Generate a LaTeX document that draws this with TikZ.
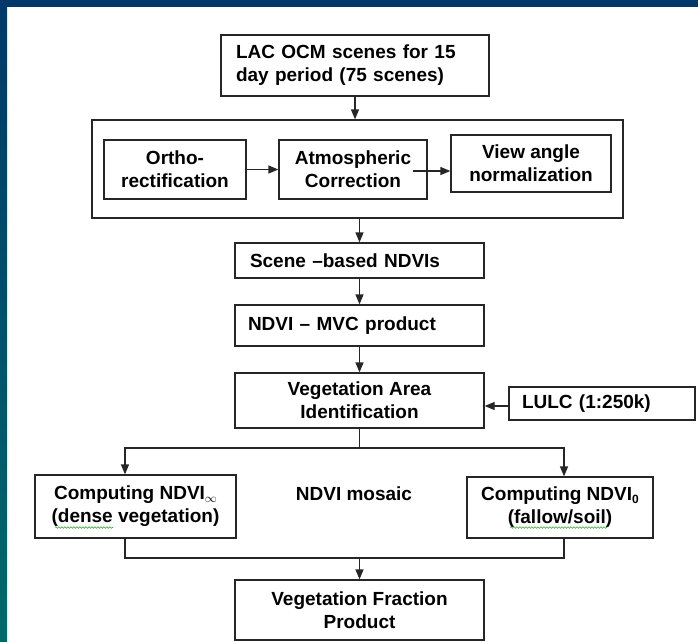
\documentclass[tikz,border=0pt]{standalone}
\usepackage{fontspec}
\setmainfont{Liberation Sans}
\usetikzlibrary{arrows.meta,decorations.pathmorphing}

\definecolor{frameblue}{HTML}{00386A}
\definecolor{frameteal}{HTML}{006A6A}
\definecolor{spellgreen}{HTML}{3BA83B}

% small index after NDVI
\newcommand{\ndviidx}[1]{\raisebox{-0.25ex}{\fontsize{12}{12}\selectfont #1}}

\begin{document}
\begin{tikzpicture}[x=1pt,y=-1pt,
    box/.style={draw=black!85,line width=1.3pt,inner sep=0pt,align=center,
      font=\fontsize{19}{23}\selectfont\bfseries},
    lbox/.style={box,align=left},
    flow/.style={line width=1.3pt,draw=black!85},
    >={Triangle[length=10pt,width=8pt,fill=black!85]}]

    % slide frame
    \useasboundingbox (0,0) rectangle (698,641);
    \fill[white] (0,0) rectangle (698,641);
    \shade[top color=frameblue,bottom color=frameteal] (0,0) rectangle (7,641);
    \fill[frameblue] (0,0) rectangle (698,7);

    % main column
    \node[lbox,minimum width=268,minimum height=61,text width=238] (lac) at (355,65.5)
      {LAC OCM scenes for 15\\day period (75 scenes)};
    \node[box,minimum width=531,minimum height=98] (group) at (357.5,169) {};
    \node[box,minimum width=142,minimum height=59] (ortho) at (175,169.5)
      {Ortho-\\rectification};
    \node[box,minimum width=148,minimum height=59] (atmos) at (353,169.5)
      {Atmospheric\\Correction};
    \node[box,minimum width=160,minimum height=57] (view) at (531,163.5)
      {View angle\\normalization};
    \node[lbox,minimum width=249,minimum height=35,text width=219] (scene) at (359.5,260.5)
      {Scene --based NDVIs};
    \node[lbox,minimum width=249,minimum height=41,text width=223] (mvc) at (359.5,325.5)
      {NDVI -- MVC product};
    \node[box,minimum width=249,minimum height=55] (vegarea) at (359.5,400.5)
      {Vegetation Area\\Identification};
    \node[lbox,minimum width=186,minimum height=33,text width=160] (lulc) at (602,403.5)
      {LULC (1:250k)};

    % the two end members
    \node[box,minimum width=201,minimum height=63] (dense) at (135.5,506.5)
      {Computing NDVI\ndviidx{$\infty$}\\(dense vegetation)};
    \node[box,minimum width=186,minimum height=61] (soil) at (560,507.5)
      {Computing NDVI\ndviidx{0}\\(fallow/soil)};
    \node[box,draw=none] (mosaic) at (354,494) {NDVI mosaic};
    \node[box,minimum width=249,minimum height=60] (frac) at (359.5,610)
      {Vegetation Fraction\\Product};

    % spell-check marks
    \begin{scope}[spellgreen,line width=0.6pt,
        decorate,decoration={snake,amplitude=0.8pt,segment length=3pt}]
      \draw[decorate] (55,527.5) -- (113,527.5);
      \draw[decorate] (510,527.5) -- (607,527.5);
    \end{scope}

    % connectors
    \coordinate (split) at (359.5,448);
    \coordinate (join) at (359.5,558);
    \draw[flow,->] (lac.south) -- (lac.south |- group.north);
    \draw[flow,->] (ortho.east) -- (ortho.east -| atmos.west);
    \draw[flow,->] ([xshift=-15pt,yshift=-1.5pt]atmos.east) -- ([yshift=-1.5pt]atmos.east -| view.west);
    \draw[flow,->] (scene.north |- group.south) -- (scene.north);
    \draw[flow,->] (scene.south) -- (mvc.north);
    \draw[flow,->] (mvc.south) -- (vegarea.north);
    \draw[flow,->] ([yshift=-2.5pt]lulc.west) -- ([yshift=-2.5pt]lulc.west -| vegarea.east);
    \draw[flow] (vegarea.south) -- (split);
    \draw[flow,->] (split) -| ([xshift=-10.5pt]dense.north);
    \draw[flow,->] (split) -| ([xshift=4pt]soil.north);
    \draw[flow] ([xshift=-10.5pt]dense.south) |- (join) -| ([xshift=4pt]soil.south);
    \draw[flow,->] (join) -- (frac.north);
\end{tikzpicture}
\end{document}
